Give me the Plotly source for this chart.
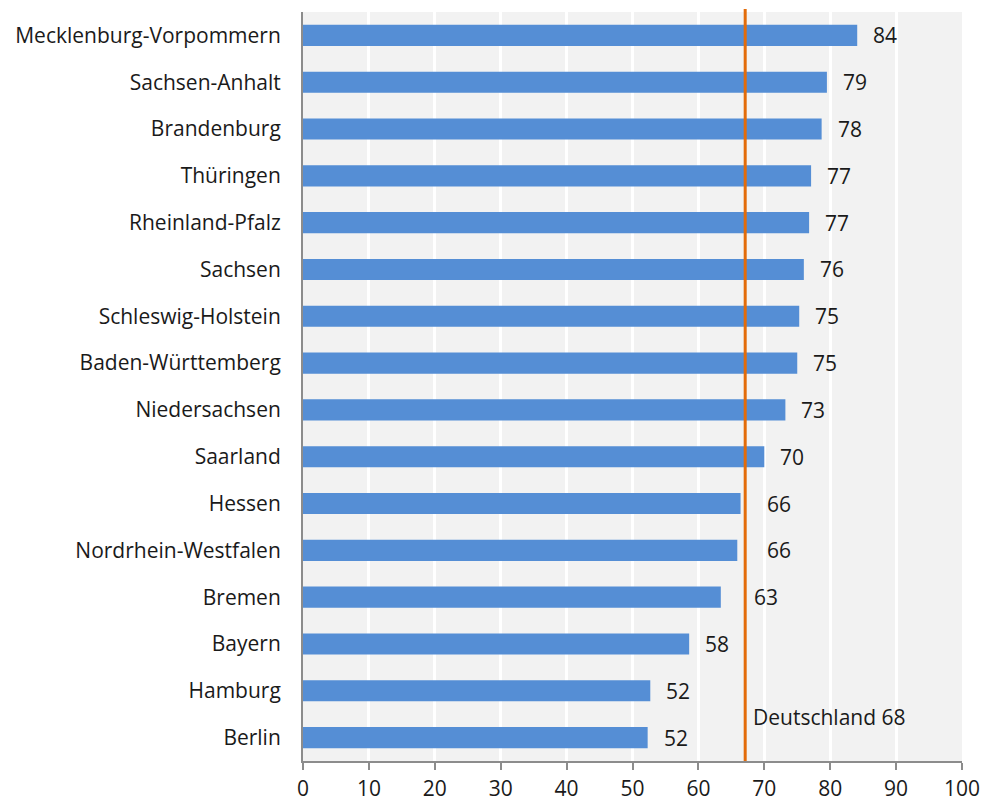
import plotly.graph_objects as go

states = ["Mecklenburg-Vorpommern", "Sachsen-Anhalt", "Brandenburg", "Thüringen",
          "Rheinland-Pfalz", "Sachsen", "Schleswig-Holstein", "Baden-Württemberg",
          "Niedersachsen", "Saarland", "Hessen", "Nordrhein-Westfalen", "Bremen",
          "Bayern", "Hamburg", "Berlin"]
values = [84.1, 79.5, 78.7, 77.1, 76.8, 76.0, 75.3, 75.0, 73.2, 70.0, 66.4, 65.9,
          63.4, 58.6, 52.7, 52.3]
value_labels = ["84", "79", "78", "77", "77", "76", "75", "75", "73", "70", "66", "66",
                "63", "58", "52", "52"]
germany_line = 67.1
germany_label = "Deutschland 68"
tick_vals = [0, 10, 20, 30, 40, 50, 60, 70, 80, 90, 100]

# style: extra pixel offsets for labels that must clear the reference line
label_extra_shift = {"Hessen": 10, "Nordrhein-Westfalen": 14, "Bremen": 17}

FONT = "Open Sans"
FS = 21
BAR = "#558ED5"
ORANGE = "#E36C0A"
TXT = "#1a1a1a"

fig = go.Figure()
fig.add_trace(go.Bar(
    y=states, x=values, orientation="h",
    marker=dict(color=BAR, line=dict(width=0)),
    hoverinfo="skip",
))

for s, v, t in zip(states, values, value_labels):
    fig.add_annotation(x=v, y=s, text=t, showarrow=False, xanchor="left",
                       xshift=14 + label_extra_shift.get(s, 0),
                       font=dict(family=FONT, size=FS, color=TXT))

fig.add_shape(type="line", x0=germany_line, x1=germany_line, xref="x",
              y0=0, y1=1.004, yref="paper", line=dict(color=ORANGE, width=3), layer="above")
fig.add_annotation(x=germany_line, y=14.5, text=germany_label, showarrow=False,
                   xanchor="left", xshift=6, yshift=-3,
                   font=dict(family=FONT, size=FS, color=TXT))

fig.update_layout(
    width=986, height=801,
    margin=dict(l=303, r=24, t=12, b=40, autoexpand=False),
    plot_bgcolor="#F2F2F2", paper_bgcolor="white",
    bargap=0.55, showlegend=False,
    font=dict(family=FONT, size=FS, color=TXT),
)
fig.update_xaxes(range=[0, 100], tickvals=tick_vals, showgrid=True, gridcolor="white",
                 gridwidth=3, showline=True, linecolor="#8c8c8c", linewidth=2,
                 ticks="outside", ticklen=7, tickcolor="#8c8c8c", tickwidth=2,
                 ticklabelstandoff=1,
                 zeroline=False, automargin=False, tickfont=dict(family=FONT, size=FS))
fig.update_yaxes(autorange="reversed", showgrid=False, showline=True, linecolor="#8c8c8c",
                 linewidth=2, ticks="", ticklabelstandoff=16, automargin=False,
                 tickfont=dict(family=FONT, size=FS))

fig.write_html("out.html", config={"displayModeBar": False},
               post_script="document.body.style.margin='0';document.body.style.overflow='hidden';")
